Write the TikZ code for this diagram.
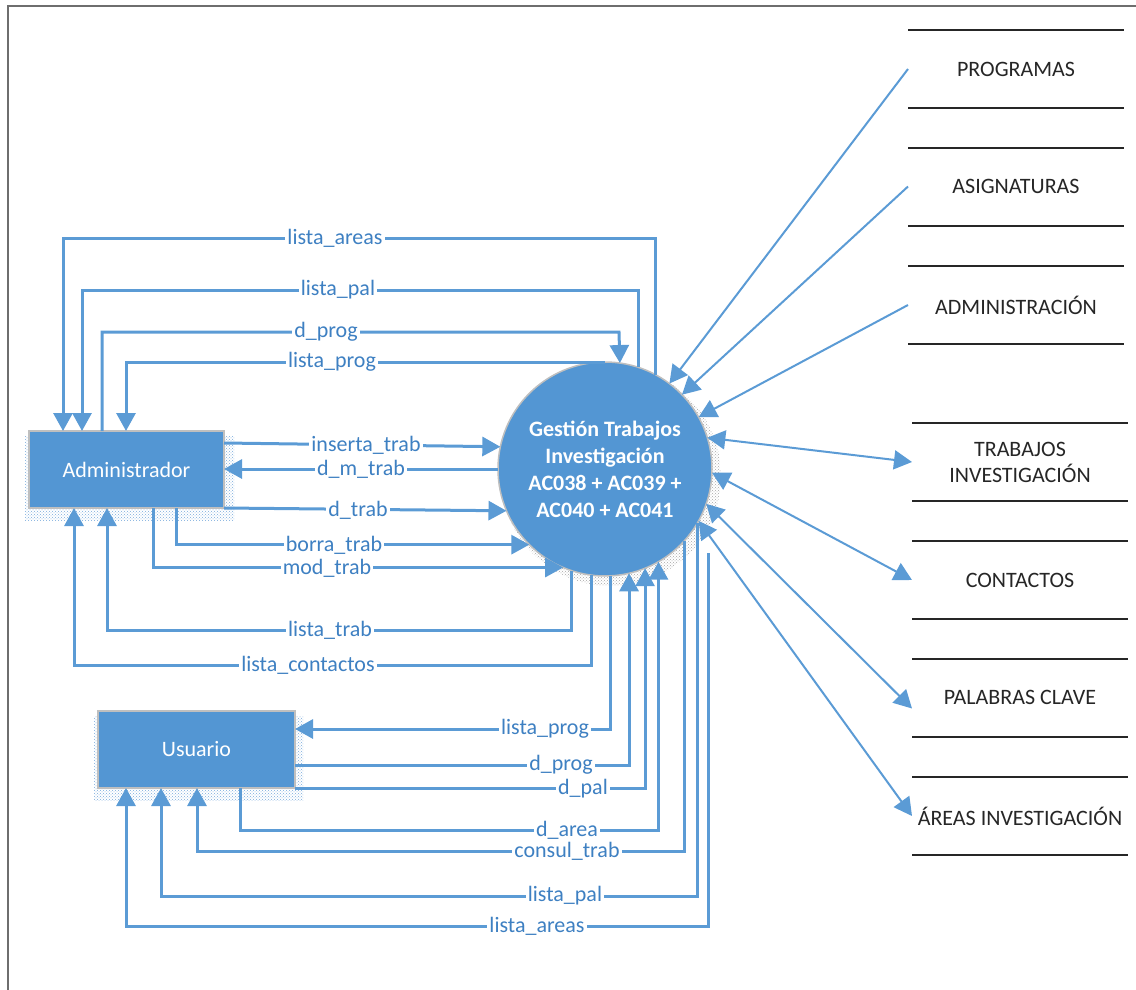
\documentclass[tikz,border=0pt]{standalone}
\usepackage{fontspec}
\setmainfont{Carlito}
\usetikzlibrary{arrows.meta,patterns}
\definecolor{boxblue}{RGB}{83,150,211}
\definecolor{lineblue}{RGB}{91,155,213}
\definecolor{lblblue}{RGB}{62,128,194}
\definecolor{shadowblue}{RGB}{120,170,220}
\definecolor{storeline}{RGB}{38,38,38}
\definecolor{framegray}{RGB}{110,110,110}
\begin{document}
\begin{tikzpicture}[x=1pt,y=-1pt,
  >={Triangle[width=19pt,length=18pt]},
  flow/.style={draw=lineblue,line width=3pt},
  diag/.style={draw=lineblue,line width=2pt},
  lbl/.style={fill=white,text=lblblue,inner sep=2pt,font=\fontsize{22}{26}\selectfont},
  ent/.style={rectangle,fill=boxblue,draw=black!25,line width=1.5pt,inner sep=0pt,outer sep=0pt,
    minimum height=77pt,text=white,font=\fontsize{22}{26}\selectfont},
  proc/.style={circle,fill=boxblue,draw=black!25,line width=1.5pt,inner sep=0pt,outer sep=0pt,
    minimum size=214pt,text=white,align=center,font=\fontsize{22}{27}\selectfont\bfseries},
  store/.style={rectangle,inner sep=0pt,outer sep=0pt,minimum width=216pt,minimum height=78pt,
    text=storeline,align=center,font=\fontsize{22}{26}\selectfont},
  storeedge/.style={draw=storeline,line width=2pt},
  shadow/.style={pattern=crosshatch dots,pattern color=shadowblue},
]
\useasboundingbox (0,0) rectangle (1136,990);
% frame
\draw[framegray,line width=1.5pt] (8,990) -- (8,6) -- (1136,6);

% shadows
\fill[shadow] (25,436) rectangle (234,520);
\fill[shadow] (94,716) rectangle (303,800);
\fill[pattern=crosshatch dots,pattern color=black!35] (611,476) circle[radius=110];

% nodes
\node[ent,minimum width=195pt] (adm) at (126.5,469.5) {Administrador};
\node[ent,minimum width=197pt] (usr) at (196.5,749.5) {Usuario};
\node[proc] (circ) at (605,469) {Gestión Trabajos\\Investigación\\AC038 + AC039 +\\AC040 + AC041};

% data stores
\node[store] (s1) at (1016,69) {PROGRAMAS};
\node[store] (s2) at (1016,186.5) {ASIGNATURAS};
\node[store] (s3) at (1016,305) {ADMINISTRACIÓN};
\node[store] (s4) at (1020,462) {TRABAJOS\\INVESTIGACIÓN};
\node[store] (s5) at (1020,580) {CONTACTOS};
\node[store] (s6) at (1020,697.5) {PALABRAS CLAVE};
\node[store] (s7) at (1020,816) {ÁREAS INVESTIGACIÓN};
\foreach \s in {s1,s2,s3,s4,s5,s6,s7}{
  \draw[storeedge] (\s.north west) -- (\s.north east) (\s.south west) -- (\s.south east);
}

% store flows
\draw[diag,->] (s1.west) -- (circ.53);
\draw[diag,->] (s2.west) -- (circ.44);
\draw[diag,->] (s3.west) -- (circ.29);
\draw[diag,<->] (circ.17) -- (s4.west);
\draw[diag,<->] (circ.358) -- (s5.west);
\draw[diag,<->] (circ.341.6) -- ([yshift=-11pt]s6.west);
\draw[diag,<->] (circ.331) -- (s7.west);

% Administrador flows (top)
\draw[flow,->] (circ.62.74) |- (63,238) -- (adm.north -| 63,0);
\draw[flow,->] (circ.72.6) |- (82,290) -- (adm.north -| 82,0);
\draw[flow,->] (adm.north -| 102,0) |- (619,332) -- (circ.82.5);
\draw[flow,->] (circ.north) -- (126,362) -- (adm.north -| 126,0);
\node[lbl] (la1) at (335,238) {lista\_areas};
\node[lbl] (la2) at (338,290) {lista\_pal};
\node[lbl] (la3) at (326,332) {d\_prog};
\node[lbl] (la4) at (332,362) {lista\_prog};

% Administrador flows (side and bottom)
\draw[flow,->] (adm.east |- 0,443) -- (circ.168.7);
\draw[flow,->] (circ.west) -- (circ.west -| adm.east);
\draw[flow,->] (adm.south east) -- (circ.203.7);
\draw[flow,->] (adm.south -| 176,0) |- (circ.225.25);
\draw[flow,->] (adm.south -| 153,0) |- (circ.247.7);
\draw[flow,->] (circ.252.6) |- (107,630) -- (adm.south -| 107,0);
\draw[flow,->] (circ.263) |- (74,665) -- (adm.south -| 74,0);
\node[lbl] (la5) at (366,445) {inserta\_trab};
\node[lbl] (la6) at (361,469) {d\_m\_trab};
\node[lbl] (la7) at (358,510) {d\_trab};
\node[lbl] (la8) at (334,545) {borra\_trab};
\node[lbl] (la9) at (327,568) {mod\_trab};
\node[lbl] (la10) at (330,630) {lista\_trab};
\node[lbl] (la11) at (308,665) {lista\_contactos};

% Usuario flows
\coordinate (lastart) at (708,553);
\draw[flow,->] (circ.273.2) |- (usr.east |- 0,729);
\draw[flow,->] (usr.east |- 0,765) -| (circ.283.5);
\draw[flow,->] (usr.south east) -| (circ.292.5);
\draw[flow,->] (usr.south -| 240,0) -- (240,830) -| (circ.300.3);
\draw[flow,->] (circ.318.4) |- (197,851) -- (usr.south -| 197,0);
\draw[flow,->] (circ.330.4) |- (161,896) -- (usr.south -| 161,0);
\draw[flow,->] (lastart) |- (126,926) -- (usr.south -| 126,0);
\node[lbl] (lu1) at (545,729) {lista\_prog};
\node[lbl] (lu2) at (561,765) {d\_prog};
\node[lbl] (lu3) at (583,789) {d\_pal};
\node[lbl] (lu4) at (567,830) {d\_area};
\node[lbl] (lu5) at (567,851) {consul\_trab};
\node[lbl] (lu6) at (565,896) {lista\_pal};
\node[lbl] (lu7) at (537,926) {lista\_areas};
\end{tikzpicture}
\end{document}
